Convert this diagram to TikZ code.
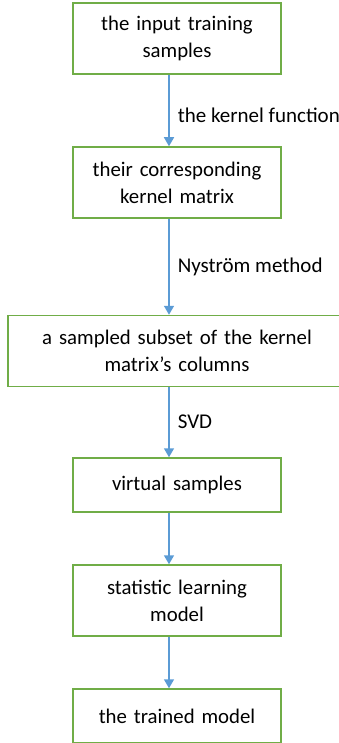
\documentclass[tikz,border=0pt]{standalone}
\usepackage{fontspec}
\setmainfont{Carlito}
\usetikzlibrary{arrows.meta}
\definecolor{boxgreen}{RGB}{112,173,71}
\definecolor{arrowblue}{RGB}{91,155,213}

\begin{document}
\begin{tikzpicture}[x=1pt, y=-1pt,
    every node/.style={align=center},
    stepbox/.style={rectangle, draw=boxgreen, line width=1.5pt,
                    minimum width=208pt, minimum height=71pt,
                    text width=204pt, inner sep=0pt,
                    font=\fontsize{20.8}{27}\selectfont},
    lbl/.style={anchor=west, inner sep=0pt, xshift=8pt,
                font=\fontsize{21}{24}\selectfont},
    arr/.style={-{Triangle[length=9pt,width=10pt]}, draw=arrowblue,
                fill=arrowblue, line width=1.5pt}
  ]
  \useasboundingbox (0,0) rectangle (339,743);
  \node[stepbox] (inp) at (177, 38.5) {the input training\\samples};
  \node[stepbox] (kmat) at (177, 182.5) {their corresponding\\kernel matrix};
  \node[stepbox, minimum width=338pt, text width=334pt] (cols) at (177, 351)
    {a sampled subset of the kernel\\matrix’s columns};
  \node[stepbox, minimum height=54pt] (virt) at (177, 485) {virtual samples};
  \node[stepbox] (slm) at (177, 600.5) {statistic learning\\model};
  \node[stepbox, minimum height=54pt] (trained) at (177, 716) {the trained model};

  \draw[arr] ([xshift=-8pt]inp.south) -- ([xshift=-8pt]kmat.north)
    node[lbl, pos=0.57] {the kernel function};
  \draw[arr] ([xshift=-8pt]kmat.south) -- ([xshift=-8pt]cols.north)
    node[lbl, pos=0.5] {Nyström method};
  \draw[arr] ([xshift=-8pt]cols.south) -- ([xshift=-8pt]virt.north)
    node[lbl, pos=0.49] {SVD};
  \draw[arr] ([xshift=-8pt]virt.south) -- ([xshift=-8pt]slm.north);
  \draw[arr] ([xshift=-8pt]slm.south) -- ([xshift=-8pt]trained.north);
\end{tikzpicture}
\end{document}
